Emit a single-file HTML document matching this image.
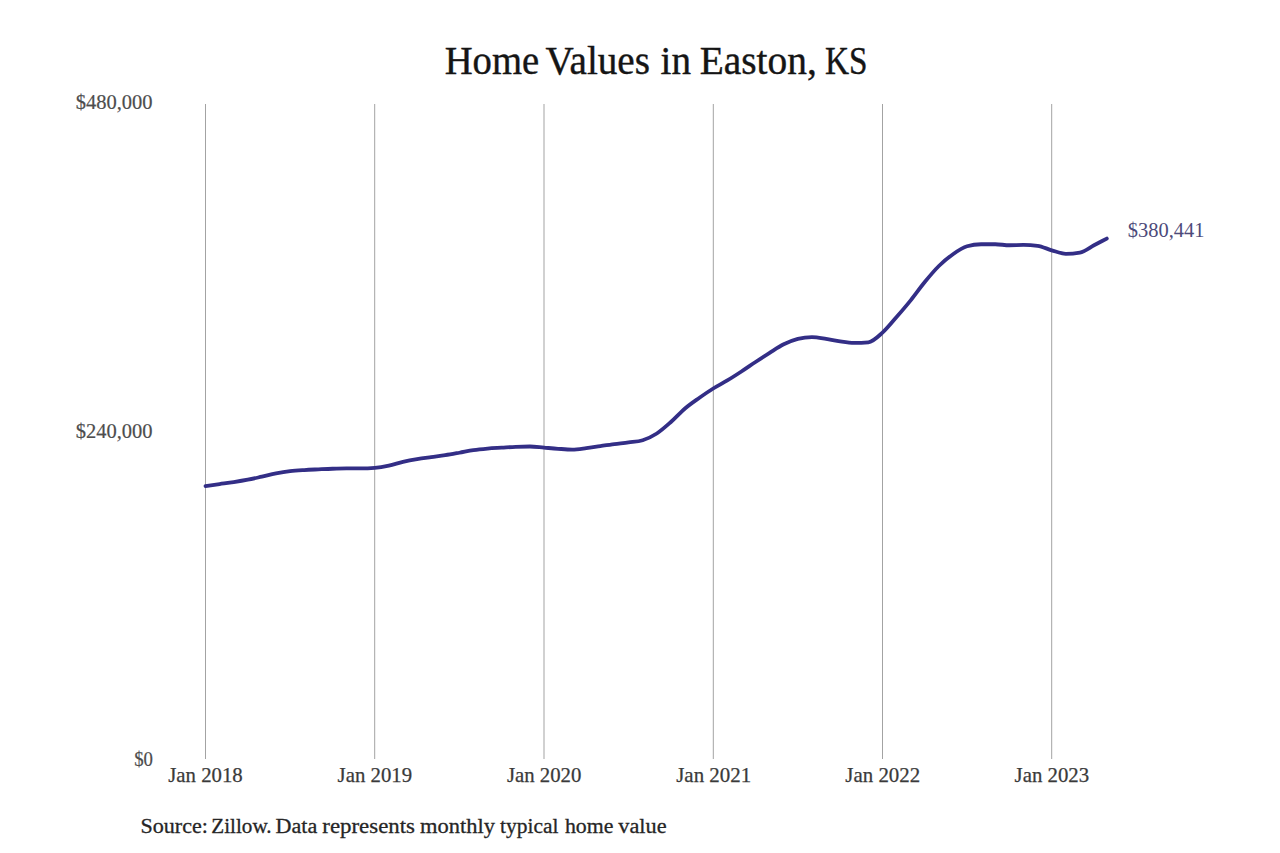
<!DOCTYPE html>
<html><head><meta charset="utf-8"><style>
html,body{margin:0;padding:0;background:#fff;width:1280px;height:853px;overflow:hidden}
svg{display:block}
text{font-family:"Liberation Serif",serif}
</style></head><body>
<svg width="1280" height="853" viewBox="0 0 1280 853">
<rect width="1280" height="853" fill="#fff"/>
<g fill="#151515" stroke="#151515" stroke-width="0.4">
<text x="444.68" y="73.7" font-size="39.5" textLength="94.49" lengthAdjust="spacingAndGlyphs">Home</text>
<text x="545.6" y="73.7" font-size="39.5" textLength="104.34" lengthAdjust="spacingAndGlyphs">Values</text>
<text x="660.56" y="73.7" font-size="39.5" textLength="30.42" lengthAdjust="spacingAndGlyphs">in</text>
<text x="699.75" y="73.7" font-size="39.5" textLength="117.03" lengthAdjust="spacingAndGlyphs">Easton,</text>
<text x="825.05" y="73.7" font-size="39.5" textLength="42.56" lengthAdjust="spacingAndGlyphs">KS</text>
</g>
<g stroke="#a3a3a3" stroke-width="1">
<line x1="205.5" y1="104" x2="205.5" y2="759"/>
<line x1="374.7" y1="104" x2="374.7" y2="759"/>
<line x1="544.0" y1="104" x2="544.0" y2="759"/>
<line x1="713.3" y1="104" x2="713.3" y2="759"/>
<line x1="882.5" y1="104" x2="882.5" y2="759"/>
<line x1="1051.7" y1="104" x2="1051.7" y2="759"/>
</g>
<g fill="#4d4d4d" stroke="#4d4d4d" stroke-width="0.2">
<text x="75.7" y="109.1" font-size="20.6" textLength="76.93" lengthAdjust="spacingAndGlyphs">$480,000</text>
<text x="75.7" y="437.9" font-size="20.6" textLength="76.93" lengthAdjust="spacingAndGlyphs">$240,000</text>
<text x="134.19" y="765.8" font-size="20.6" textLength="18.78" lengthAdjust="spacingAndGlyphs">$0</text>
</g>
<g fill="#3a3a3a" stroke="#3a3a3a" stroke-width="0.25">
<text x="168.25" y="781.6" font-size="20.6" textLength="74.51" lengthAdjust="spacingAndGlyphs">Jan 2018</text>
<text x="337.6" y="781.6" font-size="20.6" textLength="74.51" lengthAdjust="spacingAndGlyphs">Jan 2019</text>
<text x="506.9" y="781.6" font-size="20.6" textLength="74.51" lengthAdjust="spacingAndGlyphs">Jan 2020</text>
<text x="676.19" y="781.6" font-size="20.6" textLength="75.03" lengthAdjust="spacingAndGlyphs">Jan 2021</text>
<text x="845.39" y="781.6" font-size="20.6" textLength="74.77" lengthAdjust="spacingAndGlyphs">Jan 2022</text>
<text x="1014.6" y="781.6" font-size="20.6" textLength="74.51" lengthAdjust="spacingAndGlyphs">Jan 2023</text>
</g>
<path d="M205.50,486.06 C210.20,485.39 214.90,484.73 219.60,484.07 C224.30,483.42 229.01,482.84 233.71,482.11 C238.41,481.39 243.11,480.64 247.81,479.73 C252.51,478.82 257.21,477.69 261.91,476.64 C266.61,475.59 271.32,474.32 276.02,473.41 C280.72,472.50 285.42,471.74 290.12,471.18 C294.82,470.62 299.52,470.36 304.22,470.06 C308.92,469.76 313.63,469.58 318.33,469.36 C323.03,469.14 327.73,468.89 332.43,468.74 C337.13,468.59 341.83,468.45 346.53,468.45 C351.23,468.45 355.94,468.45 360.64,468.45 C365.34,468.45 370.04,468.28 374.74,467.94 C379.44,467.60 384.14,466.74 388.84,465.73 C393.54,464.71 398.25,462.97 402.95,461.85 C407.65,460.73 412.35,459.82 417.05,459.03 C421.75,458.23 426.45,457.69 431.15,457.06 C435.85,456.42 440.56,455.93 445.26,455.21 C449.96,454.49 454.66,453.60 459.36,452.75 C464.06,451.90 468.76,450.80 473.46,450.10 C478.16,449.41 482.87,448.99 487.57,448.59 C492.27,448.19 496.97,447.99 501.67,447.70 C506.37,447.40 511.07,447.01 515.77,446.81 C520.47,446.61 525.18,446.49 529.88,446.49 C534.58,446.49 539.28,447.24 543.98,447.62 C548.68,448.01 553.38,448.46 558.08,448.78 C562.78,449.09 567.49,449.53 572.19,449.53 C576.89,449.53 581.59,448.72 586.29,448.14 C590.99,447.56 595.69,446.71 600.39,446.03 C605.09,445.35 609.80,444.65 614.50,444.04 C619.20,443.44 623.90,443.03 628.60,442.38 C633.30,441.74 638.00,441.66 642.70,440.20 C647.40,438.74 652.11,436.52 656.81,433.48 C661.51,430.45 666.21,426.16 670.91,422.00 C675.61,417.84 680.31,412.50 685.01,408.50 C689.71,404.50 694.42,401.33 699.12,398.00 C703.82,394.67 708.52,391.43 713.22,388.50 C717.92,385.57 722.62,383.28 727.32,380.45 C732.02,377.61 736.73,374.56 741.43,371.49 C746.13,368.41 750.83,365.10 755.53,361.99 C760.23,358.88 764.93,355.78 769.63,352.83 C774.33,349.89 779.04,346.64 783.74,344.31 C788.44,341.99 793.14,340.04 797.84,338.86 C802.54,337.69 807.24,337.10 811.94,337.10 C816.64,337.10 821.35,338.12 826.05,338.85 C830.75,339.58 835.45,340.80 840.15,341.48 C844.85,342.17 849.55,342.97 854.25,342.97 C858.95,342.97 863.66,342.75 868.36,342.30 C873.06,341.85 877.76,336.86 882.46,332.64 C887.16,328.43 891.86,322.39 896.56,317.00 C901.26,311.61 905.97,306.15 910.67,300.32 C915.37,294.49 920.07,287.72 924.77,282.00 C929.47,276.28 934.17,270.63 938.87,266.00 C943.57,261.37 948.28,257.48 952.98,254.20 C957.68,250.92 962.38,247.64 967.08,246.29 C971.78,244.94 976.48,244.30 981.18,244.27 C985.88,244.24 990.59,244.23 995.29,244.23 C999.99,244.23 1004.69,245.25 1009.39,245.25 C1014.09,245.25 1018.79,244.95 1023.49,244.95 C1028.19,244.95 1032.90,245.24 1037.60,245.80 C1042.30,246.36 1047.00,248.97 1051.70,250.30 C1056.40,251.63 1061.10,253.80 1065.80,253.80 C1070.50,253.80 1075.21,253.40 1079.91,252.60 C1084.61,251.80 1089.31,247.75 1094.01,245.30 C1098.27,243.08 1102.54,240.84 1106.80,238.60" fill="none" stroke="#332e86" stroke-width="3.8" stroke-linejoin="round" stroke-linecap="round"/>
<g fill="#4d4a7a" stroke="#4d4a7a" stroke-width="0">
<text x="1127.81" y="236.8" font-size="20.6" textLength="76.72" lengthAdjust="spacingAndGlyphs">$380,441</text>
</g>
<g fill="#262626" stroke="#262626" stroke-width="0.3">
<text x="140.49" y="832.8" font-size="21.9" textLength="67.51" lengthAdjust="spacingAndGlyphs">Source:</text>
<text x="211.34" y="832.8" font-size="21.9" textLength="60.25" lengthAdjust="spacingAndGlyphs">Zillow.</text>
<text x="275.64" y="832.8" font-size="21.9" textLength="41.69" lengthAdjust="spacingAndGlyphs">Data</text>
<text x="322.28" y="832.8" font-size="21.9" textLength="92.71" lengthAdjust="spacingAndGlyphs">represents</text>
<text x="419.99" y="832.8" font-size="21.9" textLength="74.95" lengthAdjust="spacingAndGlyphs">monthly</text>
<text x="500.06" y="832.8" font-size="21.9" textLength="58.37" lengthAdjust="spacingAndGlyphs">typical</text>
<text x="564.95" y="832.8" font-size="21.9" textLength="48.49" lengthAdjust="spacingAndGlyphs">home</text>
<text x="618.3" y="832.8" font-size="21.9" textLength="48.27" lengthAdjust="spacingAndGlyphs">value</text>
</g>
</svg>
</body></html>
